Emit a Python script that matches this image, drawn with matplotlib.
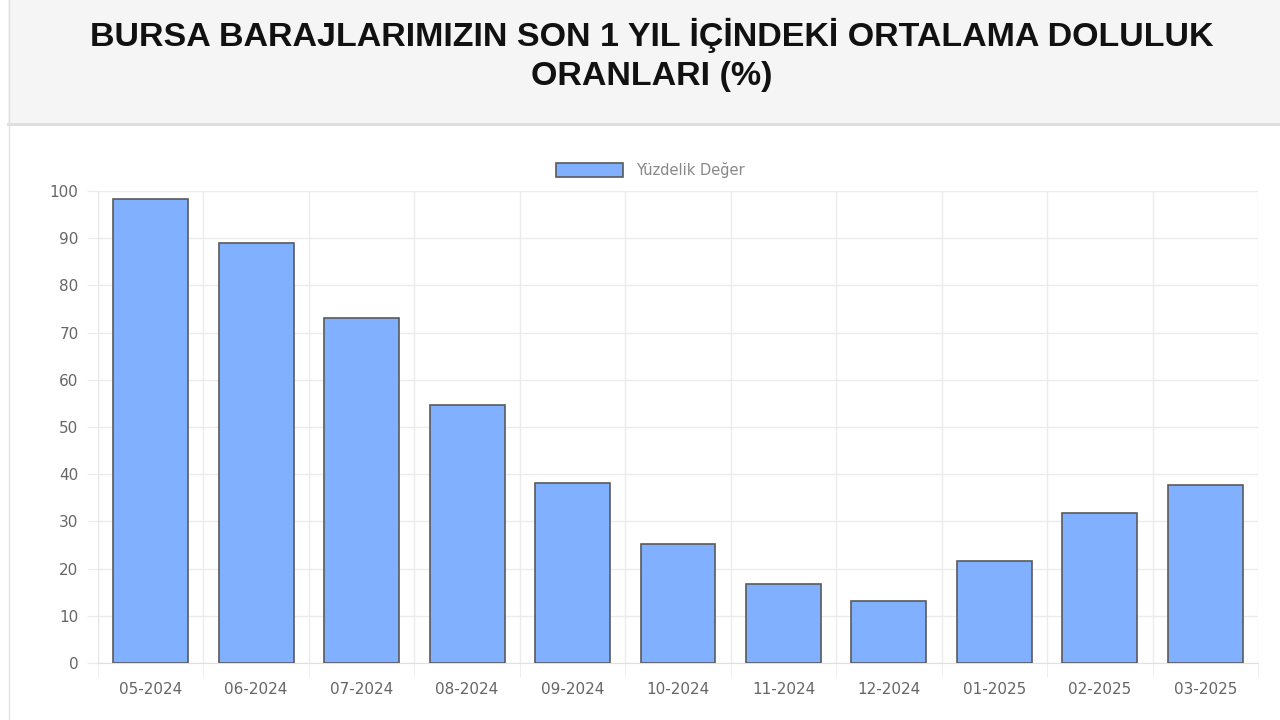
import matplotlib
matplotlib.use("Agg")
import matplotlib.pyplot as plt
from matplotlib.patches import Rectangle
from matplotlib.lines import Line2D

months = ["05-2024", "06-2024", "07-2024", "08-2024", "09-2024", "10-2024",
          "11-2024", "12-2024", "01-2025", "02-2025", "03-2025"]
doluluk = [98.3, 89.0, 73.1, 54.7, 38.1, 25.2, 16.7, 13.1, 21.6, 31.8, 37.7]
y_ticks = [0, 10, 20, 30, 40, 50, 60, 70, 80, 90, 100]
series_label = "Yüzdelik Değer"
title = "BURSA BARAJLARIMIZIN SON 1 YIL İÇİNDEKİ ORTALAMA DOLULUK\nORANLARI (%)"

W, H = 1280, 720
fig = plt.figure(figsize=(W / 100, H / 100), dpi=100)
fig.patch.set_facecolor("white")

# header band
fig.patches.append(Rectangle((8 / W, 1 - 123 / H), 1 - 8 / W, 123 / H, transform=fig.transFigure,
                             facecolor="#f5f5f5", edgecolor="none", zorder=0))
fig.lines.append(Line2D([8 / W, 1], [1 - 124 / H, 1 - 124 / H], transform=fig.transFigure,
                        color="#dddddd", lw=2))
fig.lines.append(Line2D([8.5 / W, 8.5 / W], [0, 1], transform=fig.transFigure,
                        color="#e2e2e2", lw=1))
fig.text(0.509, 1 - 55 / H, title, ha="center", va="center", fontsize=24.5, fontweight="bold",
         family=["Liberation Sans", "DejaVu Sans"], color="#111111", linespacing=1.35)

ax = fig.add_axes([98 / W, 57 / H, 1160 / W, 472 / H])
x = list(range(len(months)))
ax.bar(x, doluluk, width=0.71, color="#80b0ff", edgecolor="#5a5a5a", linewidth=1.2,
       label=series_label, zorder=3)
ax.set_xlim(-0.5, len(months) - 0.5)
ax.set_ylim(0, 100)
ax.set_yticks(y_ticks)
ax.set_xticks(x)
ax.set_xticklabels(months)
ax.set_xticks([i - 0.5 for i in range(len(months) + 1)], minor=True)
ax.grid(False)
ax.yaxis.grid(True, color="#ebebeb", lw=1, zorder=0)
ax.xaxis.grid(True, which="minor", color="#ebebeb", lw=1, zorder=0)
for s in ax.spines.values():
    s.set_visible(False)
ax.spines["bottom"].set_visible(True)
ax.spines["bottom"].set_color("#e0e0e0")
ax.spines["left"].set_visible(True)
ax.spines["left"].set_color("#e8e8e8")
ax.tick_params(axis="y", length=8, color="#ebebeb", labelsize=11, labelcolor="#666666", pad=6)
ax.tick_params(axis="x", which="major", length=0, labelsize=11, labelcolor="#666666", pad=14)
ax.tick_params(axis="x", which="minor", length=10, color="#ebebeb")

leg = ax.legend(loc="lower center", bbox_to_anchor=(0.476, 1.0), frameon=False, fontsize=10.5,
                handlelength=4.6, handleheight=1.1, handletextpad=0.9, borderaxespad=0.5)
for t in leg.get_texts():
    t.set_color("#888888")

fig.savefig("out.png", dpi=100)
